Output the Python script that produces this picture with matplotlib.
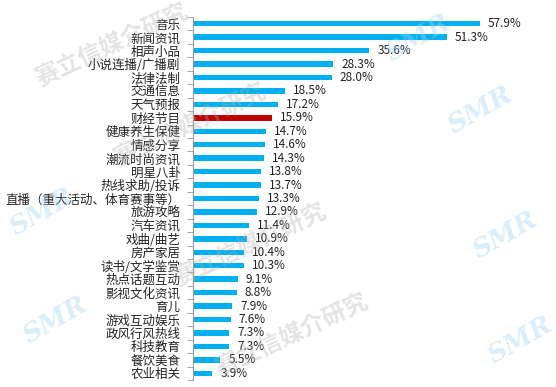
import matplotlib.pyplot as plt

plt.rcParams['font.family'] = ['Noto Sans CJK SC', 'DejaVu Sans']

categories = ['音乐', '新闻资讯', '相声小品', '小说连播/广播剧', '法律法制', '交通信息',
              '天气预报', '财经节目', '健康养生保健', '情感分享', '潮流时尚资讯', '明星八卦',
              '热线求助/投诉', '直播（重大活动、体育赛事等）', '旅游攻略', '汽车资讯',
              '戏曲/曲艺', '房产家居', '读书/文学鉴赏', '热点话题互动', '影视文化资讯',
              '育儿', '游戏互动娱乐', '政风行风热线', '科技教育', '餐饮美食', '农业相关']
values = [57.9, 51.3, 35.6, 28.3, 28.0, 18.5, 17.2, 15.9, 14.7, 14.6, 14.3, 13.8,
          13.7, 13.3, 12.9, 11.4, 10.9, 10.4, 10.3, 9.1, 8.8, 7.9, 7.6, 7.3, 7.3, 5.5, 3.9]
highlight = '财经节目'

W, H = 556, 387
fig = plt.figure(figsize=(W / 100, H / 100), dpi=100)
ax = fig.add_axes([193 / W, 1 - 380 / H, (500 - 193) / W, (380 - 17) / H])

n = len(categories)
colors = ['#C00000' if c == highlight else '#00B0F0' for c in categories]
y = list(range(n))
ax.barh(y, values, height=0.4, color=colors, zorder=2)
ax.set_ylim(n - 0.5, -0.5)
ax.set_xlim(0, 62)

for i, v in enumerate(values):
    ax.text(v + 1.6, i, f'{v:.1f}%', va='center', ha='left', fontsize=8.5, color='#222222')

ax.set_yticks(y)
ax.set_yticklabels(categories, fontsize=9, color='#222222')
ax.tick_params(axis='y', which='major', length=0, pad=9)
ax.set_yticks([i + 0.5 for i in range(-1, n)], minor=True)
ax.tick_params(axis='y', which='minor', length=4, color='#999999', direction='out')
ax.set_xticks([])
for s in ['top', 'right', 'bottom']:
    ax.spines[s].set_visible(False)
ax.spines['left'].set_color('#999999')

# watermarks
def wm_text(x, yy, rot=25):
    fig.text(x / W, 1 - yy / H, '赛立信媒介研究', fontsize=17, fontweight='bold',
             color='#b0b0b0', alpha=0.35, rotation=rot, ha='center', va='center')

wm_text(112, 45)
wm_text(190, 125)
wm_text(250, 245)
wm_text(292, 335)

def wm_logo(x, yy):
    fig.text(x / W, 1 - yy / H, 'SMR', fontsize=19, fontstyle='italic', fontweight='bold',
             family='DejaVu Serif', color='#9fd4f5', alpha=0.4, rotation=30,
             ha='center', va='center')

for px, py in [(55, 320), (480, 110), (418, 38), (505, 235), (520, 340), (42, 212)]:
    wm_logo(px, py)

plt.savefig('out.png', dpi=100)
